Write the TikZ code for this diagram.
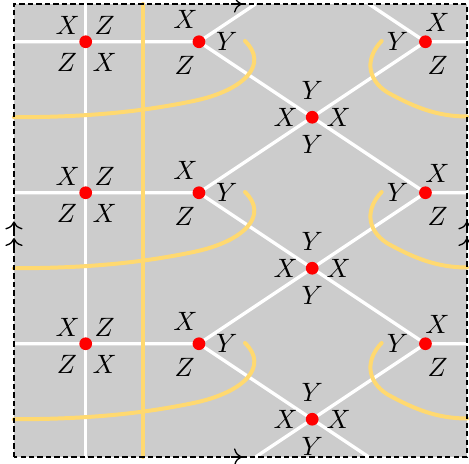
\documentclass[tikz,border=0pt]{standalone}
\usepackage{xcolor}
\usepackage{tikz}
\usetikzlibrary{arrows.meta, positioning}

\begin{document}
\begin{tikzpicture}[
  vertice/.style={circle, fill=vermelho, inner sep=0pt, minimum size=4.8pt},
  aresta/.style={color=white, line width=1.25pt},
  curva/.style={color=amarelo, line width=1.5pt, line cap=round},
  borda/.style={color=black, line width=0.5pt, dash pattern=on 2pt off 1.2pt},
  seta/.style={color=black, line width=0.5pt, -{To[length=3pt, width=6.5pt]}}
]
% --- TORO: FUNDO CINZA, ARESTAS BRANCAS E CURVAS AMARELAS ---
\definecolor{fundo}{HTML}{CCCCCC}
\definecolor{amarelo}{HTML}{FFD970}
\definecolor{vermelho}{HTML}{FF0000}

\useasboundingbox (-0.185,-0.08) rectangle (6.027,6.053);

% LAYER 1: Fundo
\fill[fundo] (0,0) rectangle (6,6);

% LAYER 2: Vertices (coordenadas) e arestas de cada faixa
\coordinate (Etop) at (0.95,6);
\coordinate (Ebot) at (0.95,0);
\coordinate (T1) at (3.2,6);
\coordinate (T2) at (4.7,6);
\coordinate (S1) at (3.2,0);
\coordinate (S2) at (4.7,0);
\foreach \k/\d in {0/0, 1/2, 2/4} {
  \begin{scope}[shift={(0,-\d)}]
    \coordinate (E\k) at (0.95,5.5);
    \coordinate (A\k) at (2.45,5.5);
    \coordinate (B\k) at (5.45,5.5);
    \coordinate (C\k) at (3.95,4.5);
    \coordinate (L\k) at (0,5.5);
    \coordinate (R\k) at (6,5.5);
    \draw[aresta] (L\k) -- (E\k) -- (A\k) -- (C\k) -- (B\k) -- (R\k);
  \end{scope}
}
\draw[aresta] (Ebot) -- (E2) -- (E1) -- (E0) -- (Etop);
\draw[aresta] (T1) -- (A0);
\draw[aresta] (B0) -- (T2);
\draw[aresta] (A1) -- (C0) -- (B1);
\draw[aresta] (A2) -- (C1) -- (B2);
\draw[aresta] (S1) -- (C2) -- (S2);

% LAYER 3: Curvas amarelas
\draw[curva] (1.71,0) -- (1.71,6);
\foreach \d in {0,2,4} {
  \begin{scope}[shift={(0,-\d)}]
    \draw[curva] (3.06,5.51) .. controls (3.38,5.2) and (3.05,4.86) .. (2.4,4.72)
      .. controls (1.6,4.55) and (0.8,4.5) .. (0,4.5);
    \draw[curva] (4.87,5.51) .. controls (4.62,5.25) and (4.7,4.95) .. (5.0,4.8)
      .. controls (5.3,4.64) and (5.6,4.51) .. (6,4.51);
  \end{scope}
}

% LAYER 4: Borda e setas de colagem
\draw[borda] (0,0) rectangle (6,6);
\draw[seta] (2.88,6) -- (3.02,6);
\draw[seta] (2.88,0) -- (3.02,0);
\draw[seta] (0,2.97) -- (0,3.12);
\draw[seta] (0,2.75) -- (0,2.90);
\draw[seta] (6,2.97) -- (6,3.12);
\draw[seta] (6,2.75) -- (6,2.90);

% LAYER 5: Pontos vermelhos e rotulos
\foreach \k in {0,1,2} {
  \node[vertice] (dE\k) at (E\k) {};
  \node[vertice] (dA\k) at (A\k) {};
  \node[vertice] (dB\k) at (B\k) {};
  \node[vertice] (dC\k) at (C\k) {};
  \node (eX\k) at ([shift={(-0.24,0.22)}]E\k) {$X$};
  \node (eZ\k) at ([shift={(0.25,0.22)}]E\k) {$Z$};
  \node (eZb\k) at ([shift={(-0.25,-0.27)}]E\k) {$Z$};
  \node (eXb\k) at ([shift={(0.25,-0.27)}]E\k) {$X$};
  \node (aX\k) at ([shift={(-0.18,0.29)}]A\k) {$X$};
  \node (aY\k) at ([shift={(0.37,0)}]A\k) {$Y$};
  \node (aZ\k) at ([shift={(-0.19,-0.32)}]A\k) {$Z$};
  \node (bY\k) at ([shift={(-0.37,0)}]B\k) {$Y$};
  \node (bX\k) at ([shift={(0.16,0.26)}]B\k) {$X$};
  \node (bZ\k) at ([shift={(0.16,-0.32)}]B\k) {$Z$};
  \node (cY\k) at ([shift={(0,0.36)}]C\k) {$Y$};
  \node (cX\k) at ([shift={(-0.35,0)}]C\k) {$X$};
  \node (cXr\k) at ([shift={(0.35,0)}]C\k) {$X$};
  \node (cYb\k) at ([shift={(0,-0.36)}]C\k) {$Y$};
}
\end{tikzpicture}
\end{document}
